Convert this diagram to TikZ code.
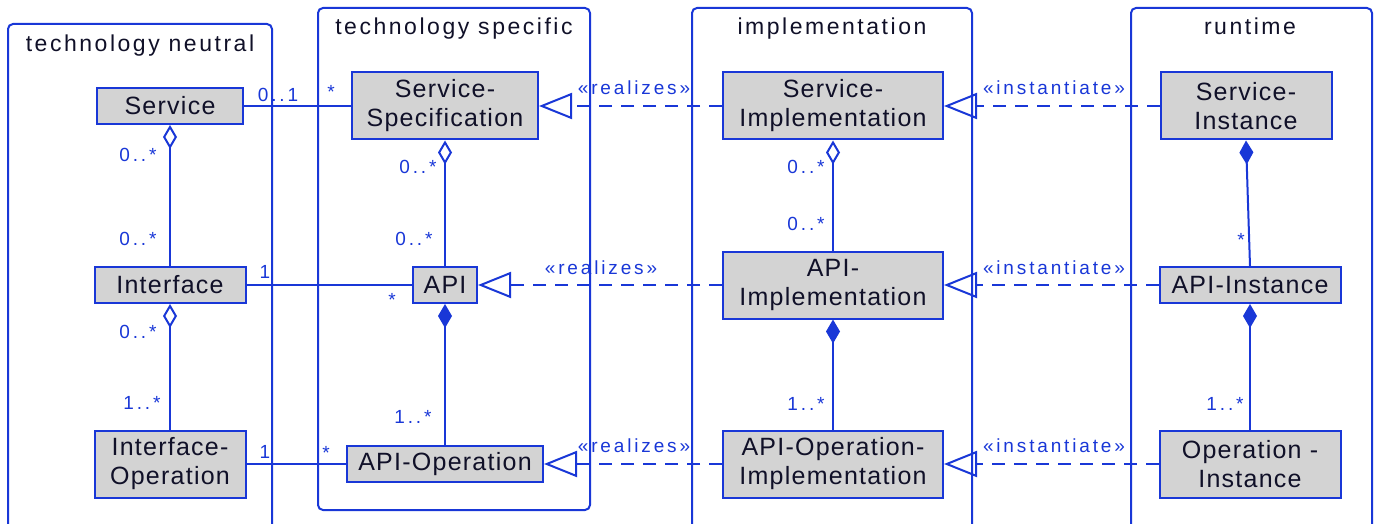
\documentclass[tikz,border=0pt]{standalone}
\usepackage{fontspec}
\setmainfont{Liberation Sans}
\newfontfamily\boxf{Liberation Sans}[LetterSpace=5]
\newfontfamily\lblf{Liberation Sans}[LetterSpace=15]
\newfontfamily\titf{Liberation Sans}[LetterSpace=11]
\usetikzlibrary{arrows.meta}
\definecolor{umlblue}{RGB}{25,55,215}
\definecolor{boxgray}{RGB}{211,211,211}
\definecolor{ink}{RGB}{16,16,40}
\tikzset{
  cls/.style={draw=umlblue, fill=boxgray, line width=2pt, inner sep=0pt, align=center,
    text=ink, font=\boxf\fontsize{25}{29}\selectfont},
  frame/.style={draw=umlblue, line width=2pt, rounded corners=5pt},
  ttl/.style={text=ink, font=\titf\fontsize{23}{26}\selectfont, inner sep=0pt, anchor=base},
  lbl/.style={text=umlblue, font=\lblf\fontsize{19}{22}\selectfont, inner sep=0pt},
  assoc/.style={draw=umlblue, line width=2pt},
  dep/.style={draw=umlblue, line width=2pt, dash pattern=on 13pt off 9pt},
  agg/.style={{Diamond[open, length=24pt, width=14pt, line width=2pt]}-},
  comp/.style={{Diamond[length=24pt, width=14pt]}-},
  real/.style={-{Triangle[open, length=33pt, width=26pt, line width=2pt]}}
}
\begin{document}
\begin{tikzpicture}[x=1pt, y=-1pt]
\useasboundingbox (0,0) rectangle (1377,524);
% frames
\draw[frame] (8,530) -- (8,24) -- (272,24) -- (272,530);
\draw[frame] (318,8) rectangle (590,510);
\draw[frame] (692,530) -- (692,8) -- (972,8) -- (972,530);
\draw[frame] (1131,530) -- (1131,8) -- (1372,8) -- (1372,530);
\node[ttl] (t1) at (140,52) {technology neutral};
\node[ttl] (t2) at (454,35) {technology specific};
\node[ttl] (t3) at (832,35) {implementation};
\node[ttl] (t4) at (1250,35) {runtime};
% classes
\node[cls, minimum width=146pt, minimum height=36pt] (serv) at (170,106) {Service};
\node[cls, minimum width=151pt, minimum height=36pt] (intf) at (170,285) {Interface};
\node[cls, minimum width=151pt, minimum height=67pt] (intop) at (170,464) {Interface-\\Operation};
\node[cls, minimum width=186pt, minimum height=67pt] (sspec) at (445,106) {Service-\\Specification};
\node[cls, minimum width=64pt, minimum height=36pt] (api) at (445,285) {API};
\node[cls, minimum width=196pt, minimum height=36pt] (apiop) at (445,464) {API-Operation};
\node[cls, minimum width=220pt, minimum height=67pt] (simpl) at (833,106) {Service-\\Implementation};
\node[cls, minimum width=220pt, minimum height=67pt] (aimpl) at (833,285) {API-\\Implementation};
\node[cls, minimum width=220pt, minimum height=67pt] (oimpl) at (833,464) {API-Operation-\\Implementation};
\node[cls, minimum width=171pt, minimum height=67pt] (sinst) at (1246,106) {Service-\\Instance};
\node[cls, minimum width=181pt, minimum height=36pt] (ainst) at (1250,285) {API-Instance};
\node[cls, minimum width=181pt, minimum height=67pt] (oinst) at (1250,464) {Operation -\\Instance};
% associations
\draw[assoc] (serv.east) -- (sspec.west);
\draw[assoc] (intf.east) -- (api.west);
\draw[assoc] (intop.east) -- (apiop.west);
\draw[assoc, agg] (serv.south) -- (intf.north);
\draw[assoc, agg] (intf.south) -- (intop.north);
\draw[assoc, agg] (sspec.south) -- (api.north);
\draw[assoc, comp] (api.south) -- (apiop.north);
\draw[assoc, agg] (simpl.south) -- (aimpl.north);
\draw[assoc, comp] (aimpl.south) -- (oimpl.north);
\draw[assoc, comp] (sinst.south) -- (ainst.north);
\draw[assoc, comp] (ainst.south) -- (oinst.north);
% dependencies
\draw[dep, real] (simpl.west) -- (sspec.east);
\draw[dep, real] (aimpl.west) -- (api.east);
\draw[dep, real] (oimpl.west) -- (apiop.east);
\draw[dep, real] (sinst.west) -- (simpl.east);
\draw[dep, real] (ainst.west) -- (aimpl.east);
\draw[dep, real] (oinst.west) -- (oimpl.east);
% labels
\node[lbl] (m1) at (278,95) {0..1};
\node[lbl] (m2) at (331,92) {*};
\node[lbl] (m3) at (138,155) {0..*};
\node[lbl] (m4) at (138,239) {0..*};
\node[lbl] (m5) at (265,272) {1};
\node[lbl] (m6) at (392,300) {*};
\node[lbl] (m7) at (138,332) {0..*};
\node[lbl] (m8) at (142,403) {1..*};
\node[lbl] (m9) at (265,452) {1};
\node[lbl] (m10) at (326,453) {*};
\node[lbl] (m11) at (418,167) {0..*};
\node[lbl] (m12) at (414,239) {0..*};
\node[lbl] (m13) at (413,417) {1..*};
\node[lbl] (m14) at (806,167) {0..*};
\node[lbl] (m15) at (806,224) {0..*};
\node[lbl] (m16) at (806,404) {1..*};
\node[lbl] (m17) at (1241,240) {*};
\node[lbl] (m18) at (1225,404) {1..*};
\node[lbl] (r1) at (634,88) {«realizes»};
\node[lbl] (r2) at (601,268) {«realizes»};
\node[lbl] (r3) at (634,446) {«realizes»};
\node[lbl] (i1) at (1054,88) {«instantiate»};
\node[lbl] (i2) at (1054,268) {«instantiate»};
\node[lbl] (i3) at (1054,446) {«instantiate»};
\end{tikzpicture}
\end{document}
